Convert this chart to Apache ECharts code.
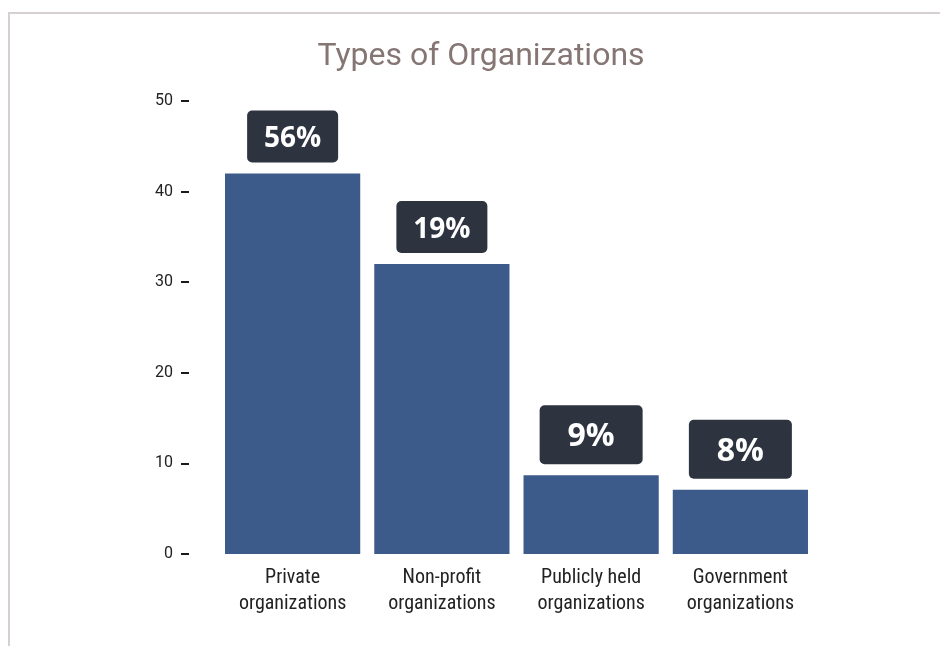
<!DOCTYPE html>
<html>
<head>
<meta charset="utf-8">
<title>Types of Organizations</title>
<script src="https://cdn.jsdelivr.net/npm/echarts@6/dist/echarts.min.js"></script>
<style>
  html, body { margin: 0; padding: 0; background: #ffffff; }
  #frame {
    position: absolute; left: 8px; top: 12px; right: 0; bottom: 0;
    border-top: 2px solid #d6d0d0; border-left: 2px solid #d6d0d0;
  }
  #chart { position: absolute; left: 0; top: 0; width: 940px; height: 646px; }
</style>
</head>
<body>
<div id="frame"></div>
<div id="chart"></div>
<script>
// Organization types and their counts
const categories = [
  'Private\norganizations',
  'Non-profit\norganizations',
  'Publicly held\norganizations',
  'Government\norganizations'
];
const counts = [42, 32, 8.7, 7.1];
// Share of respondents shown in the badge above each bar
const shares = ['56%', '19%', '9%', '8%'];
const yTicks = [0, 10, 20, 30, 40, 50];

const chart = echarts.init(document.getElementById('chart'), null, { renderer: 'canvas' });

// Badge style: the two tall bars get a slightly smaller badge
function badge(i) {
  const big = i >= 2;
  const h = big ? 59 : 52;
  const padTop = 5;
  return {
    show: true,
    position: 'top',
    distance: 11,
    formatter: () => shares[i],
    backgroundColor: '#2d3440',
    borderRadius: 5,
    color: '#ffffff',
    fontFamily: "'Open Sans', 'Noto Sans', sans-serif",
    fontWeight: 'bold',
    fontSize: big ? 32 : 28,
    width: big ? 103 : 91,
    height: h - padTop,
    lineHeight: h - padTop,
    padding: [padTop, 0, 0, 0],
    align: 'center'
  };
}

const option = {
  animation: false,
  backgroundColor: 'transparent',
  title: {
    text: 'Types of Organizations',
    left: 476,
    top: 36,
    textAlign: 'center',
    textStyle: {
      fontFamily: 'Roboto, sans-serif',
      fontWeight: 'normal',
      fontSize: 32,
      color: '#857674'
    }
  },
  grid: { left: 218, right: 125, top: 101, bottom: 92 },
  xAxis: {
    type: 'category',
    data: categories,
    axisLine: { show: false },
    axisTick: { show: false },
    axisLabel: {
      margin: 11,
      fontFamily: "'Roboto Condensed', 'Liberation Sans Narrow', 'DejaVu Sans Condensed', Roboto, sans-serif",
      fontSize: 20,
      lineHeight: 26,
      color: '#222222',
      interval: 0
    }
  },
  yAxis: {
    type: 'value',
    min: yTicks[0],
    max: yTicks[yTicks.length - 1],
    interval: 10,
    offset: 29,
    splitLine: { show: false },
    axisLine: { show: false },
    axisTick: { show: true, length: 8, lineStyle: { color: '#1a1a1a', width: 2 } },
    axisLabel: {
      margin: 16,
      fontFamily: 'Roboto, sans-serif',
      fontSize: 16,
      color: '#222222'
    }
  },
  series: [{
    type: 'bar',
    barCategoryGap: '9.4%',
    itemStyle: { color: '#3c5b8a' },
    data: counts.map((v, i) => ({ value: v, label: badge(i) }))
  }]
};

chart.setOption(option);
</script>
</body>
</html>
